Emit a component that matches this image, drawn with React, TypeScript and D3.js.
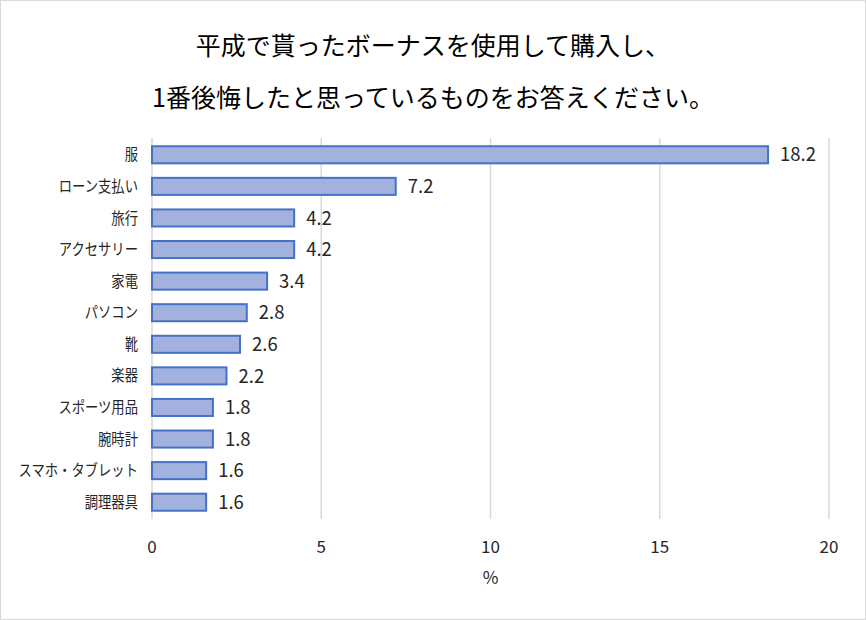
import React from 'react';
import * as d3 from 'd3';

const categories = ['服', 'ローン支払い', '旅行', 'アクセサリー', '家電', 'パソコン', '靴', '楽器', 'スポーツ用品', '腕時計', 'スマホ・タブレット', '調理器具'];
const values = [18.2, 7.2, 4.2, 4.2, 3.4, 2.8, 2.6, 2.2, 1.8, 1.8, 1.6, 1.6];
const xTicks = [0, 5, 10, 15, 20];
const titleLines = ['平成で貰ったボーナスを使用して購入し、', '1番後悔したと思っているものをお答えください。'];

const width = 866;
const height = 620;
const margin = { top: 139, right: 37, bottom: 102, left: 152 };
const font = '"Noto Sans CJK JP", "Noto Sans", sans-serif';

export default function App() {
  const xScale = d3.scaleLinear().domain([0, 20]).range([margin.left, width - margin.right]);
  const yScale = d3
    .scaleBand()
    .domain(categories)
    .range([margin.top, height - margin.bottom])
    .paddingInner(0.46)
    .paddingOuter(0.23);

  const plotBottom = height - margin.bottom;
  const labelX = margin.left - 14;

  return (
    <div style={{ position: 'absolute', left: 0, top: 0 }}>
      <svg width={width} height={height} style={{ display: 'block', fontFamily: font }}>
        <rect x={0.5} y={0.5} width={width - 1} height={height - 1} fill="#ffffff" stroke="#d9d9d9" />

        {/* title */}
        {titleLines.map((t, i) => (
          <text key={i} x={433} y={55 + i * 52} textAnchor="middle" fontSize={25} fill="#000000">
            {t}
          </text>
        ))}

        {/* gridlines */}
        {xTicks.map(t => (
          <line key={t} x1={xScale(t)} x2={xScale(t)} y1={margin.top - 1} y2={plotBottom + 1} stroke="#d9d9d9" strokeWidth={1.5} />
        ))}

        {/* bars */}
        {categories.map((c, i) => {
          const cy = (yScale(c) as number) + yScale.bandwidth() / 2;
          return (
            <g key={c}>
              <rect
                x={xScale(0)}
                y={yScale(c)}
                width={xScale(values[i]) - xScale(0)}
                height={yScale.bandwidth()}
                fill="#a3b1de"
                stroke="#4472c4"
                strokeWidth={2}
              />
              <text x={xScale(values[i]) + 12} y={cy} dy="0.36em" fontSize={18.5} fill="#262626">
                {values[i].toFixed(1)}
              </text>
              <text
                transform={`translate(${labelX},${cy}) scale(0.86,1)`}
                dy="0.36em"
                textAnchor="end"
                fontSize={15.5}
                fill="#262626"
              >
                {c}
              </text>
            </g>
          );
        })}

        {/* x axis labels */}
        {xTicks.map(t => (
          <text key={t} x={xScale(t)} y={547} dy="0.36em" textAnchor="middle" fontSize={17} fill="#262626">
            {t}
          </text>
        ))}
        <text x={xScale(10)} y={578} dy="0.36em" textAnchor="middle" fontSize={17} fill="#262626">
          %
        </text>
      </svg>
    </div>
  );
}
